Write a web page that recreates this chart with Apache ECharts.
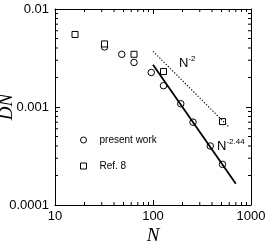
<!DOCTYPE html>
<html>
<head>
<meta charset="utf-8">
<script src="https://cdn.jsdelivr.net/npm/echarts@6/dist/echarts.min.js"></script>
<style>html,body{margin:0;padding:0;background:#fff}#c{width:265px;height:242px}</style>
</head>
<body>
<div id="c"></div>
<script>
// ---- data ----
var presentN  = [32, 48, 64, 96, 128, 192, 256, 384, 512];
var presentDN = [0.0041, 0.00345, 0.00285, 0.00225, 0.00165, 0.00108, 0.0007, 0.0004, 0.00026];
var refN  = [16, 32, 64, 128, 512];
var refDN = [0.0055, 0.0044, 0.00345, 0.0023, 0.00071];
var fitN  = [100, 700];          // N^-2.44 guide (solid)
var fitDN = [0.0027, 0.000165];
var guideN  = [100, 590];        // N^-2 guide (dotted)
var guideDN = [0.0037, 0.00063];
var xTickLabels = ['10', '100', '1000'];
var yTickLabels = ['0.0001', '0.001', '0.01'];
var xMinorTicks = [20,30,40,50,60,70,80,90,200,300,400,500,600,700,800,900];
var yMinorTicks = [0.0002,0.0003,0.0004,0.0005,0.0006,0.0007,0.0008,0.0009,0.002,0.003,0.004,0.005,0.006,0.007,0.008,0.009];

var X_MIN = 10, X_MAX = 1000, Y_MIN = 0.0001, Y_MAX = 0.01;
function pair(a, b) { return a.map(function (v, i) { return [v, b[i]]; }); }

var FONT = 'Liberation Sans, Arial, sans-serif';
var SERIF = 'Liberation Serif, Times New Roman, serif';
var chart = echarts.init(document.getElementById('c'), null, {renderer: 'canvas'});
var axisCommon = {
  type: 'log', logBase: 10,
  axisLine: {show: true, onZero: false, lineStyle: {color: '#000', width: 1}},
  axisTick: {show: true, inside: true, length: 5, lineStyle: {color: '#000', width: 1}},
  splitLine: {show: false},
  minorTick: {show: false}
};
function xlab(v) { return xTickLabels[Math.round(Math.log10(v)) - 1]; }
function ylab(v) { return yTickLabels[Math.round(Math.log10(v)) + 4]; }

var MINOR_LEN = 3;
function tickSeries(name, data, side) {
  return {
    name: name, type: 'custom', coordinateSystem: 'cartesian2d', xAxisIndex: 0, yAxisIndex: 0,
    silent: true, clip: false, z: 5,
    data: data,
    renderItem: function (params, api) {
      var v = api.value(side === 'x' ? 0 : 1);
      var st = {stroke: '#000', lineWidth: 1};
      var p, q;
      if (side === 'x') {
        p = api.coord([v, Y_MIN]); q = api.coord([v, Y_MAX]);
        return {type: 'group', children: [
          {type: 'line', shape: {x1: p[0], y1: p[1], x2: p[0], y2: p[1] - MINOR_LEN}, style: st},
          {type: 'line', shape: {x1: q[0], y1: q[1], x2: q[0], y2: q[1] + MINOR_LEN}, style: st}
        ]};
      }
      p = api.coord([X_MIN, v]); q = api.coord([X_MAX, v]);
      return {type: 'group', children: [
        {type: 'line', shape: {x1: p[0], y1: p[1], x2: p[0] + MINOR_LEN, y2: p[1]}, style: st},
        {type: 'line', shape: {x1: q[0], y1: q[1], x2: q[0] - MINOR_LEN, y2: q[1]}, style: st}
      ]};
    }
  };
}

chart.setOption({
  animation: false,
  backgroundColor: '#fff',
  grid: {left: 55, right: 14, top: 9, bottom: 37, containLabel: false, outerBoundsMode: 'none'},
  xAxis: [
    Object.assign({}, axisCommon, {
      position: 'bottom', min: X_MIN, max: X_MAX,
      axisLabel: {color: '#000', fontSize: 13, fontFamily: FONT, margin: 5, formatter: xlab},
      name: 'N', nameLocation: 'middle', nameGap: 21, nameMoveOverlap: false,
      nameTextStyle: {color: '#000', fontSize: 19, fontStyle: 'italic', fontFamily: SERIF}
    }),
    Object.assign({}, axisCommon, {
      position: 'top', min: X_MIN, max: X_MAX, axisLabel: {show: false}
    })
  ],
  yAxis: [
    Object.assign({}, axisCommon, {
      position: 'left', min: Y_MIN, max: Y_MAX,
      axisLabel: {color: '#000', fontSize: 13, fontFamily: FONT, margin: 6, formatter: ylab},
      name: 'DN', nameLocation: 'middle', nameGap: 39, nameMoveOverlap: false,
      nameTextStyle: {color: '#000', fontSize: 19, fontStyle: 'italic', fontFamily: SERIF}
    }),
    Object.assign({}, axisCommon, {
      position: 'right', min: Y_MIN, max: Y_MAX, axisLabel: {show: false}
    })
  ],
  legend: {
    orient: 'vertical', left: 80, top: 135, padding: 0,
    itemWidth: 6, itemHeight: 6, itemGap: 16,
    itemStyle: {borderWidth: 1, borderColor: '#000', color: '#fff'},
    textStyle: {color: '#000', fontSize: 10, fontFamily: FONT, padding: [0, 0, 0, 8]},
    data: ['present work', 'Ref. 8']
  },
  series: [
    tickSeries('xMinor', xMinorTicks.map(function (v) { return [v, Y_MIN]; }), 'x'),
    tickSeries('yMinor', yMinorTicks.map(function (v) { return [X_MIN, v]; }), 'y'),
    {
      name: 'N^-2', type: 'line', data: pair(guideN, guideDN), symbol: 'none', silent: true,
      lineStyle: {color: '#000', width: 1.1, type: [1.3, 1.7]}
    },
    {
      name: 'N^-2.44', type: 'line', data: pair(fitN, fitDN), symbol: 'none', silent: true,
      lineStyle: {color: '#000', width: 1.8}
    },
    {
      name: 'present work', type: 'scatter', data: pair(presentN, presentDN),
      symbol: 'circle', symbolSize: 6.5,
      itemStyle: {color: '#fff', borderColor: '#000', borderWidth: 1, opacity: 1}
    },
    {
      name: 'Ref. 8', type: 'scatter', data: pair(refN, refDN),
      symbol: 'rect', symbolSize: 6,
      itemStyle: {color: '#fff', borderColor: '#000', borderWidth: 1, opacity: 1}
    }
  ],
  graphic: [
    {type: 'text', left: 179, top: 55, style: {
      text: '{b|N}{s|-2}', fill: '#000', font: '13px ' + FONT,
      rich: {b: {fontSize: 13, fontFamily: FONT, fill: '#000'}, s: {fontSize: 8, fontFamily: FONT, fill: '#000', verticalAlign: 'top', padding: [0, 0, 8, 0]}}
    }},
    {type: 'text', left: 217, top: 138, style: {
      text: '{b|N}{s|-2.44}', fill: '#000', font: '13px ' + FONT,
      rich: {b: {fontSize: 13, fontFamily: FONT, fill: '#000'}, s: {fontSize: 8, fontFamily: FONT, fill: '#000', verticalAlign: 'top', padding: [0, 0, 8, 0]}}
    }}
  ]
});
</script>
</body>
</html>
